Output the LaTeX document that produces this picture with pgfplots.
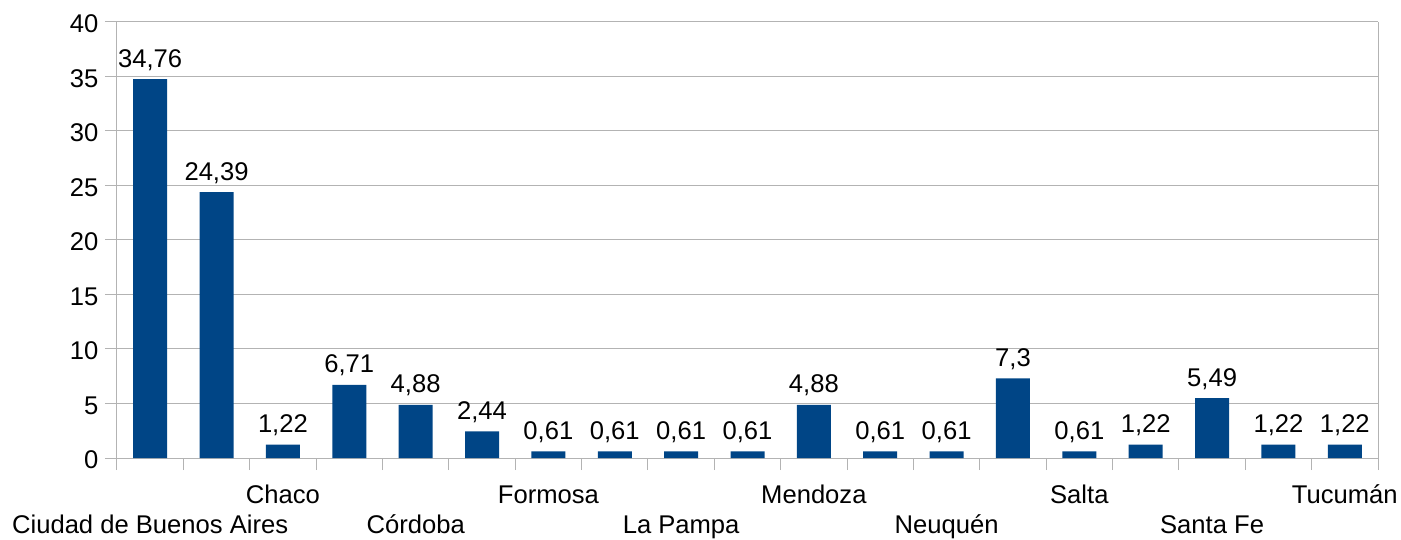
\documentclass[border=0pt]{standalone}
\usepackage{fontspec}
\setmainfont{Liberation Sans}
\usepackage{pgfplots}
\usepackage{pgfplotstable}
\pgfplotsset{compat=1.18}
\definecolor{barblue}{HTML}{004586}
\definecolor{gridgray}{HTML}{B3B3B3}
\pgfplotstableread{
x y lab
1 34.76 34,76
2 24.39 24,39
3 1.22 1,22
4 6.71 6,71
5 4.88 4,88
6 2.44 2,44
7 0.61 0,61
8 0.61 0,61
9 0.61 0,61
10 0.61 0,61
11 4.88 4,88
12 0.61 0,61
13 0.61 0,61
14 7.3 7,3
15 0.61 0,61
16 1.22 1,22
17 5.49 5,49
18 1.22 1,22
19 1.22 1,22
}\datatable
\begin{document}
\begin{tikzpicture}
\begin{axis}[
  scale only axis,
  width=1261bp, height=436bp,
  xmin=0.5, xmax=19.5, ymin=0, ymax=40,
  ytick={0,5,...,40},
  ymajorgrids,
  grid style={gridgray, line width=1bp},
  axis line style={gridgray, line width=1bp},
  tick style={gridgray, line width=1bp},
  tick align=outside,
  major tick length=12bp,
  axis x line*=bottom,
  axis y line*=left,
  xtick={0.5,1.5,...,19.5},
  xticklabels={},
  extra x ticks={1,3,5,7,9,11,13,15,17,19},
  extra x tick labels={
    {\raisebox{-30bp}{Ciudad de Buenos Aires}},
    {Chaco},
    {\raisebox{-30bp}{Córdoba}},
    {Formosa},
    {\raisebox{-30bp}{La Pampa}},
    {Mendoza},
    {\raisebox{-30bp}{Neuquén}},
    {Salta},
    {\raisebox{-30bp}{Santa Fe}},
    {Tucumán}},
  extra x tick style={major tick length=0pt, grid=none,
    xticklabel style={anchor=base, yshift=-45bp, inner sep=0pt}},
  /pgf/number format/assume math mode=true,
  ticklabel style={font=\fontsize{25.7}{30}\selectfont, text=black},
  yticklabel style={xshift=-3bp, yshift=-2bp},
  nodes near coords,
  point meta=explicit symbolic,
  every node near coord/.append style={font=\fontsize{25.7}{30}\selectfont, text=black, anchor=base, yshift=12bp, inner sep=0pt},
  clip=false,
]
\addplot[ybar, bar width=34bp, fill=barblue, draw=none, bar shift=0pt]
  table[x=x, y=y, meta=lab] {\datatable};
\draw[gridgray, line width=1bp] (rel axis cs:1,0) -- (rel axis cs:1,1);
\draw[gridgray, line width=1bp] (rel axis cs:0,1) -- (rel axis cs:1,1);
\end{axis}
\pgfresetboundingbox
\path[use as bounding box] (-117bp,-82bp) rectangle (1284bp,458bp);
\end{tikzpicture}
\end{document}
